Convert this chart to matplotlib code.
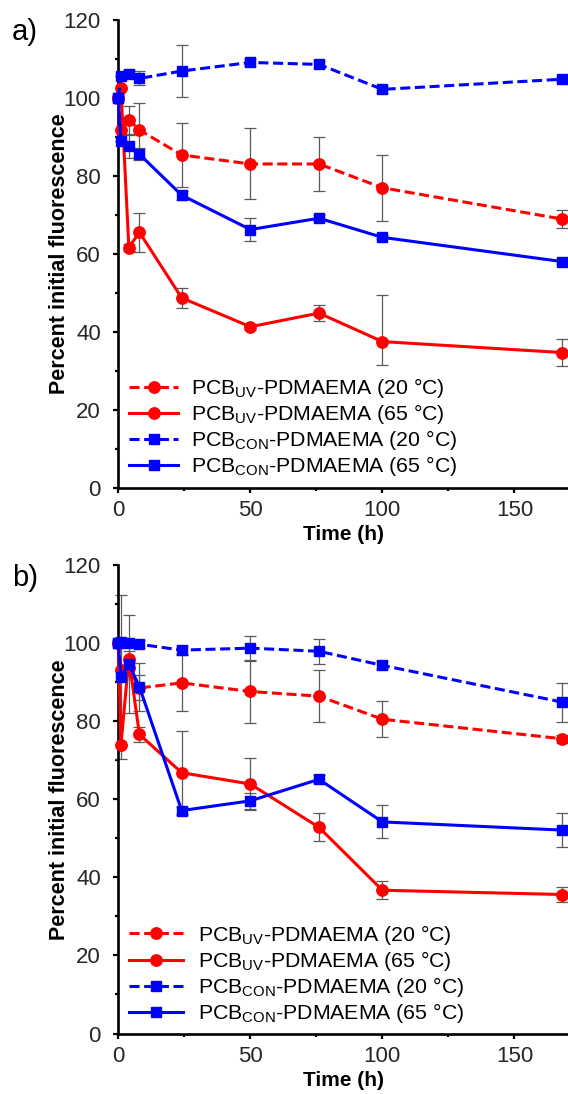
import matplotlib
matplotlib.use("Agg")
import matplotlib.pyplot as plt
from matplotlib.ticker import MultipleLocator

plt.rcParams['font.family'] = ['Liberation Sans', 'DejaVu Sans']
plt.rcParams['mathtext.fontset'] = 'custom'
plt.rcParams['mathtext.rm'] = 'Liberation Sans'
plt.rcParams['mathtext.it'] = 'Liberation Sans:italic'
plt.rcParams['mathtext.bf'] = 'Liberation Sans:bold'

# ---- data ----
time_h = [0, 1, 4, 8, 24, 50, 76, 100, 168]

labels = [r'PCB$_{\mathrm{UV}}$-PDMAEMA (20 °C)',
          r'PCB$_{\mathrm{UV}}$-PDMAEMA (65 °C)',
          r'PCB$_{\mathrm{CON}}$-PDMAEMA (20 °C)',
          r'PCB$_{\mathrm{CON}}$-PDMAEMA (65 °C)']

# panel a
uv20_a = [100, 91.7, 94.3, 91.7, 85.3, 83.0, 83.0, 76.9, 68.9]
uv20_a_err = [0, 0, 3.5, 6.8, 8.1, 9.1, 7.0, 8.4, 2.2]
uv65_a = [100, 102.4, 61.6, 65.5, 48.7, 41.3, 44.8, 37.5, 34.7]
uv65_a_err_low = [0, 0, 1.0, 5.0, 2.5, 0.8, 2.0, 6.0, 3.5]
uv65_a_err_high = [0, 0, 1.0, 5.0, 2.5, 0.8, 2.0, 12.0, 3.5]
con20_a = [100, 105.5, 106.0, 104.9, 106.8, 109.0, 108.5, 102.1, 104.7]
con20_a_err = [0, 0, 1.0, 1.8, 6.7, 0.8, 0.8, 0.8, 0.5]
con65_a = [100, 88.9, 87.5, 85.5, 75.0, 66.2, 69.1, 64.2, 58.0]
con65_a_err = [0, 0, 3.0, 1.5, 1.2, 3.0, 0.8, 0.5, 0.5]

# panel b
uv20_b = [100, 93.1, 93.5, 88.5, 89.8, 87.6, 86.4, 80.5, 75.5]
uv20_b_err = [0, 0, 2.0, 3.2, 7.2, 8.0, 6.6, 4.6, 1.0]
uv65_b = [100, 73.9, 96.0, 76.6, 66.8, 63.9, 52.8, 36.7, 35.6]
uv65_b_err = [0, 0, 2.0, 2.0, 10.8, 6.6, 3.6, 2.3, 1.8]
con20_b = [100, 100.3, 99.9, 99.7, 98.2, 98.7, 97.9, 94.3, 84.9]
con20_b_err = [0, 0, 1.0, 1.0, 1.0, 3.2, 3.2, 1.0, 5.0]
con65_b = [100, 91.4, 94.6, 88.8, 57.1, 59.6, 65.1, 54.2, 52.1]
con65_b_err = [0, 21.0, 12.6, 6.2, 1.0, 2.0, 1.0, 4.2, 4.3]

RED = '#FF0000'
BLUE = '#0000FF'
styles = [(RED, (0, (3.3, 1.5)), 'o', 8.2),
          (RED, '-', 'o', 8.2),
          (BLUE, (0, (3.3, 1.5)), 's', 7.5),
          (BLUE, '-', 's', 7.5)]

fig = plt.figure(figsize=(5.68, 10.94), dpi=100)
W, H = 568.0, 1094.0


def make_axes(top_px, bottom_px):
    left_px, right_px = 118.3, 568.0
    return fig.add_axes([left_px / W, 1 - bottom_px / H,
                         (right_px - left_px) / W, (bottom_px - top_px) / H])


def draw(ax, series, errs, letter, leg_y, leg_hl, leg_pad):
    for vals, err in zip(series, errs):
        ax.errorbar(time_h, vals, yerr=err, fmt='none', ecolor='#5a5a5a',
                    elinewidth=0.9, capsize=4, capthick=0.9, zorder=2,
                    clip_on=False)
    for vals, lab, (c, ls, m, ms) in zip(series, labels, styles):
        ax.plot(time_h, vals, color=c, linestyle=ls, marker=m, ms=ms,
                lw=2.2, label=lab, zorder=3, clip_on=False)
    ax.set_xlim(0, 170.3)
    ax.set_ylim(0, 120)
    ax.xaxis.set_major_locator(MultipleLocator(50))
    ax.xaxis.set_minor_locator(MultipleLocator(25))
    ax.yaxis.set_major_locator(MultipleLocator(20))
    ax.yaxis.set_minor_locator(MultipleLocator(10))
    for s in ['top', 'right']:
        ax.spines[s].set_visible(False)
    for s in ['left', 'bottom']:
        ax.spines[s].set_linewidth(1.9)
        ax.spines[s].set_color('black')
    ax.tick_params(which='major', direction='out', length=3.5, width=1.6,
                   labelsize=16, labelcolor='#262626')
    ax.tick_params(axis='x', which='major', pad=5.5)
    ax.tick_params(axis='y', which='major', pad=9.0)
    ax.tick_params(which='minor', direction='out', length=2.5, width=1.6)
    ax.set_xlabel('Time (h)', fontsize=15, fontweight='bold', labelpad=2.6)
    ax.set_ylabel('Percent initial fluorescence', fontsize=15.5,
                  fontweight='bold')
    ax.yaxis.set_label_coords(-0.107, 0.5)
    ax.legend(loc='upper left', bbox_to_anchor=(0.024, leg_y), frameon=False,
              fontsize=15.3, handlelength=leg_hl, handletextpad=leg_pad,
              labelspacing=0.1, borderpad=0, borderaxespad=0, numpoints=1)
    ax.text(-0.237, 1.003, letter, transform=ax.transAxes, fontsize=21,
            ha='left', va='top')


ax_a = make_axes(19.5, 488.0)
draw(ax_a, [uv20_a, uv65_a, con20_a, con65_a],
     [uv20_a_err, [uv65_a_err_low, uv65_a_err_high], con20_a_err, con65_a_err],
     'a)', 0.239, 2.3, 0.6)

ax_b = make_axes(565.0, 1033.5)
draw(ax_b, [uv20_b, uv65_b, con20_b, con65_b],
     [uv20_b_err, uv65_b_err, con20_b_err, con65_b_err], 'b)', 0.236, 2.55, 0.7)

fig.savefig('out.png', dpi=100)
